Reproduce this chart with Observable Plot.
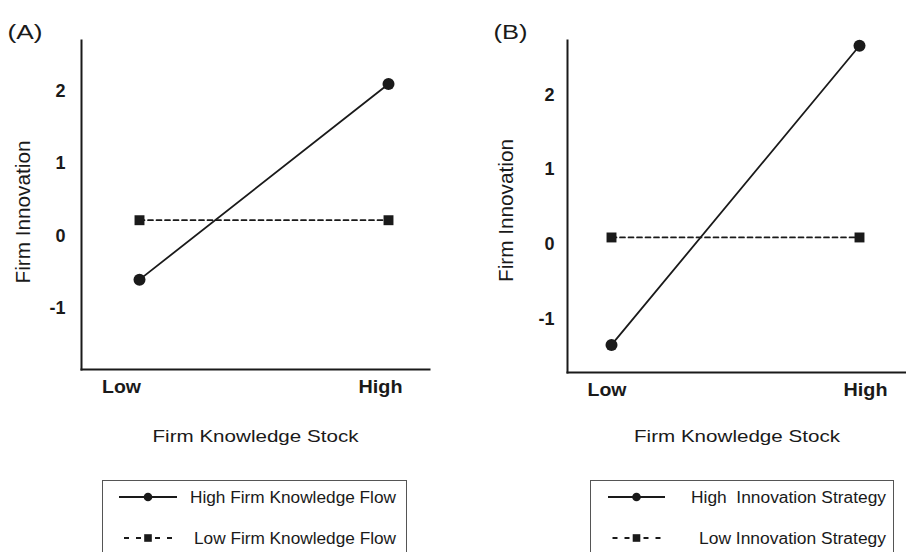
<!DOCTYPE html>
<html><head><meta charset="utf-8">
<script src="https://cdn.jsdelivr.net/npm/d3@7"></script>
<script src="https://cdn.jsdelivr.net/npm/@observablehq/plot@0.6"></script>
<style>
html,body{margin:0;padding:0;background:#fff;}
#wrap{position:relative;width:906px;height:552px;overflow:hidden;font-family:"Liberation Sans",Arial,sans-serif;}
#wrap svg{position:absolute;top:0;}
</style></head><body><div id="wrap"></div>
<script>
// ---- data ----
const categories = ["Low", "High"];
const yTicks = [-1, 0, 1, 2];
const panelLabels = ["(A)", "(B)"];
const xTitle = "Firm Knowledge Stock";
const yTitle = "Firm Innovation";
const seriesA = ["High Firm Knowledge Flow", "Low Firm Knowledge Flow"];
const seriesB = ["High  Innovation Strategy", "Low Innovation Strategy"];
const aHigh = [-0.60, 2.10];
const aLow = [0.22, 0.22];
const bHigh = [-1.35, 2.66];
const bLow = [0.09, 0.09];
const yDomainA = [-1.84, 2.70];
const yDomainB = [-1.72, 2.73];

// ---- style ----
const INK = "#1a1a1a";
const FONT = '"Liberation Sans", Arial, Helvetica, sans-serif';
const stretch = {
  "(A)": 35, "(B)": 34, "Low": 39, "High": 44,
  "Firm Knowledge Stock": 206, "Firm Innovation": 143,
  "High Firm Knowledge Flow": 206, "Low Firm Knowledge Flow": 202,
  "High  Innovation Strategy": 195, "Low Innovation Strategy": 187
};

function rows(vals, name) {
  return categories.map((c, i) => ({cat: c, v: vals[i], s: name}));
}

function panel(o) {
  const hi = rows(o.high, o.names[0]);
  const lo = rows(o.low, o.names[1]);
  return Plot.plot({
    width: 453, height: 470,
    marginLeft: o.ml, marginRight: o.mr, marginTop: 40, marginBottom: o.mb,
    style: {fontFamily: FONT, color: INK, background: "transparent", overflow: "visible"},
    x: {type: "point", domain: categories, padding: 0, insetLeft: o.insetL, insetRight: o.insetR},
    y: {domain: o.yDomain},
    marks: [
      Plot.frame({anchor: "left", strokeWidth: 2}),
      Plot.frame({anchor: "bottom", strokeWidth: 2}),
      Plot.axisY({ticks: yTicks, tickSize: 0, tickPadding: o.tickPad, tickFormat: d => String(d),
        fontSize: 18, fontWeight: "bold", label: null}),
      Plot.axisX({ticks: [categories[0]], tickSize: 0, tickPadding: 11, fontSize: 18, fontWeight: "bold",
        label: null, dx: o.lowDx}),
      Plot.axisX({ticks: [categories[1]], tickSize: 0, tickPadding: 11, fontSize: 18, fontWeight: "bold",
        label: null, dx: o.highDx}),
      Plot.text([xTitle], {frameAnchor: "bottom", text: d => d, dy: o.xTitleDy, fontSize: 17}),
      Plot.text([yTitle], {frameAnchor: "left", text: d => d, rotate: -90, textAnchor: "middle",
        dx: o.yTitleDx, dy: o.yTitleDy, fontSize: 20}),
      Plot.text([o.label], {frameAnchor: "top-left", text: d => d, textAnchor: "start", dx: -74, dy: -16, fontSize: 20}),
      Plot.line(lo, {x: "cat", y: "v", stroke: INK, strokeWidth: 1.7, strokeDasharray: "5,3.5"}),
      Plot.line(hi, {x: "cat", y: "v", stroke: INK, strokeWidth: 1.8}),
      Plot.dot(lo, {x: "cat", y: "v", symbol: "square", r: 5.6, fill: INK}),
      Plot.dot(hi, {x: "cat", y: "v", r: 6, fill: INK})
    ]
  });
}

const wrap = document.getElementById("wrap");

const pA = panel({label: panelLabels[0], high: aHigh, low: aLow, names: seriesA, yDomain: yDomainA,
  ml: 81, mr: 24, mb: 101, insetL: 57.7, insetR: 41, tickPad: 16, lowDx: -18, highDx: -8,
  xTitleDy: 72, yTitleDx: -57.5, yTitleDy: 7});
pA.style.left = "0px";
wrap.appendChild(pA);

const pB = panel({label: panelLabels[1], high: bHigh, low: bLow, names: seriesB, yDomain: yDomainB,
  ml: 114, mr: 0, mb: 98, insetL: 44, insetR: 47, tickPad: 13, lowDx: -4.5, highDx: 6,
  xTitleDy: 69, yTitleDx: -60.5, yTitleDy: 4});
pB.style.left = "453px";
wrap.appendChild(pB);

// ---- legends ----
const leg = d3.select(wrap).append("svg")
  .attr("width", 906).attr("height", 552).style("left", "0px")
  .style("font-family", FONT);

function legend(box, sym, textRight, names) {
  const g = leg.append("g");
  g.append("rect").attr("x", box[0] + 0.5).attr("y", 480.5).attr("width", box[1] - box[0]).attr("height", 100)
    .attr("fill", "none").attr("stroke", "#555").attr("stroke-width", 1);
  const ys = [497, 538];
  const mid = (sym[0] + sym[1]) / 2;
  // solid entry
  g.append("line").attr("x1", sym[0]).attr("x2", sym[1]).attr("y1", ys[0]).attr("y2", ys[0])
    .attr("stroke", INK).attr("stroke-width", 2);
  g.append("circle").attr("cx", mid).attr("cy", ys[0]).attr("r", 4.3).attr("fill", INK);
  // dashed entry: two short dashes each side of the square
  [-1, 1].forEach(side => {
    [7, 19].forEach(off => {
      const a = mid + side * off;
      const b = mid + side * (off + 5);
      g.append("line").attr("x1", a).attr("x2", b).attr("y1", ys[1]).attr("y2", ys[1])
        .attr("stroke", INK).attr("stroke-width", 2);
    });
  });
  g.append("rect").attr("x", mid - 3.8).attr("y", ys[1] - 3.8).attr("width", 7.6).attr("height", 7.6).attr("fill", INK);
  names.forEach((n, i) => {
    g.append("text").attr("x", textRight).attr("y", ys[i]).attr("dy", "0.35em")
      .attr("text-anchor", "end").attr("font-size", 16).attr("fill", INK)
      .style("white-space", "pre").text(n);
  });
}
legend([102, 406], [119, 177], 396, seriesA);
legend([590, 893], [608, 665], 886, seriesB);

// horizontal stretch of text to match reference proportions
wrap.querySelectorAll("text").forEach(t => {
  const L = stretch[t.textContent];
  if (L) { t.setAttribute("textLength", L); t.setAttribute("lengthAdjust", "spacingAndGlyphs"); }
});
</script></body></html>
